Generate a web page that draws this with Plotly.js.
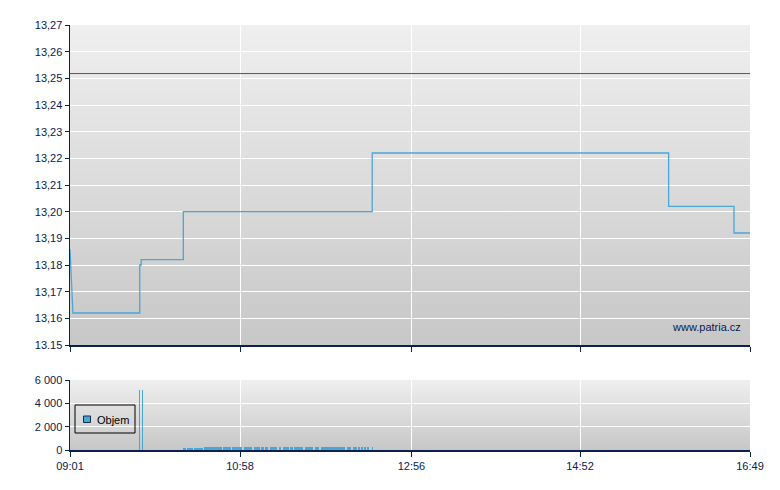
<!DOCTYPE html>
<html>
<head>
<meta charset="utf-8">
<script src="https://cdn.plot.ly/plotly-3.0.1.min.js"></script>
<style>html,body{margin:0;padding:0;background:#fff;}#chart{width:780px;height:490px;}</style>
</head>
<body>
<div id="chart"></div>
<script>
// ---- data ----
var day = "2024-01-01 ";
var priceTimes = ["09:01","09:03","09:49","09:49","09:50","09:50","10:19","10:19","12:29","12:29","15:53","15:53","16:38","16:38","16:49"];
var priceValues = [13.186,13.162,13.162,13.180,13.180,13.182,13.182,13.200,13.200,13.222,13.222,13.202,13.202,13.192,13.192];
var prevClose = 13.2518;
var prevCloseTimes = ["09:01","16:49"];

var spikeTimes = ["09:49","09:51"];
var spikeVolumes = [5150,5150];
var volStart = "10:19";
var volumes = [
 170,160,0,170,180,170,160,0,170,180,
 170,160,180,170,0,260,280,270,260,280,
 270,280,260,270,280,260,270,0,280,260,
 270,280,260,0,270,280,260,270,260,280,
 270,0,280,260,270,280,260,270,0,280,
 260,270,280,0,270,260,0,280,270,0,
 280,260,270,280,260,0,270,280,0,270,
 260,280,270,0,260,270,0,280,260,270,
 280,260,270,0,280,260,270,280,260,270,
 0,270,280,260,0,270,280,270,260,280,
 270,260,280,270,260,280,270,260,280,270,
 260,280,0,270,280,260,0,270,280,260,
 0,270,0,260,0,280,0,270,0,0,
 260
];
var volumeName = "Objem";

var xTickTimes = ["09:01","10:58","12:56","14:52","16:49"];
var yTickValues = [13.15,13.16,13.17,13.18,13.19,13.20,13.21,13.22,13.23,13.24,13.25,13.26,13.27];
var yTickLabels = ["13.15","13,16","13,17","13,18","13,19","13,20","13,21","13,22","13,23","13,24","13,25","13,26","13,27"];
var volTickValues = [0,2000,4000,6000];
var volTickLabels = ["0","2 000","4 000","6 000"];

// ---- build ----
function t(s){ return day + s; }
function addMin(s, m){
  var p = s.split(":"); var tot = (+p[0])*60 + (+p[1]) + m;
  var h = Math.floor(tot/60), mm = tot%60;
  return (h<10?"0":"")+h+":"+(mm<10?"0":"")+mm;
}
var volX = [], volY = [], volW = [];
spikeTimes.forEach(function(s,i){ volX.push(t(s)); volY.push(spikeVolumes[i]); volW.push(42000); });
volumes.forEach(function(v,i){ if(v>0){ volX.push(t(addMin(volStart,i))); volY.push(v); volW.push(60000); } });

var navy = "#0a2050";
var lineBlue = "#4aa6d6";
var barBlue = "#45a8d8";

var grad = "<svg xmlns='http://www.w3.org/2000/svg' width='10' height='100' viewBox='0 0 10 100' preserveAspectRatio='none'><defs><linearGradient id='g' x1='0' y1='0' x2='0' y2='1'><stop offset='0' stop-color='#efefef'/><stop offset='1' stop-color='#c7c7c7'/></linearGradient></defs><rect width='10' height='100' fill='url(#g)'/></svg>";
var gradURI = "data:image/svg+xml;charset=utf-8," + encodeURIComponent(grad);

var traces = [
  {x: prevCloseTimes.map(t), y: [prevClose, prevClose], type:"scatter", mode:"lines",
   line:{color:"#b83030", width:1}, showlegend:false, hoverinfo:"skip", xaxis:"x", yaxis:"y"},
  {x: priceTimes.map(t), y: priceValues, type:"scatter", mode:"lines",
   line:{color:lineBlue, width:1.3}, showlegend:false, xaxis:"x", yaxis:"y"},
  {x: volX, y: volY, type:"bar", name:volumeName, width: volW,
   marker:{color:barBlue, line:{width:0}}, xaxis:"x2", yaxis:"y2", showlegend:false}
];

var xRange = [t("09:01"), t("16:49")];
var tickFont = {family:"Liberation Sans, Arial, sans-serif", size:11, color:navy};

var layout = {
  width:780, height:490,
  margin:{l:70, r:30, t:25, b:40, pad:0},
  paper_bgcolor:"#ffffff",
  plot_bgcolor:"rgba(0,0,0,0)",
  font:{family:"Liberation Sans, Arial, sans-serif", size:11, color:navy},
  showlegend:false,
  bargap:0,
  xaxis:{type:"date", range:xRange, domain:[0,1], anchor:"y",
         tickvals:xTickTimes.map(t), ticktext:xTickTimes, showticklabels:false,
         ticks:"outside", ticklen:5, tickcolor:navy, tickwidth:1,
         showgrid:true, gridcolor:"#ffffff", gridwidth:1,
         showline:true, linecolor:navy, linewidth:1.5, zeroline:false, fixedrange:true},
  yaxis:{domain:[0.247,1], range:[13.15,13.27], anchor:"x",
         tickvals:yTickValues, ticktext:yTickLabels, tickfont:tickFont,
         ticks:"outside", ticklen:4, tickcolor:navy,
         showgrid:true, gridcolor:"#ffffff", gridwidth:1,
         showline:true, linecolor:navy, linewidth:1.5, zeroline:false},
  xaxis2:{type:"date", range:xRange, domain:[0,1], anchor:"y2",
          tickvals:xTickTimes.map(t), ticktext:xTickTimes, tickfont:tickFont,
          ticks:"outside", ticklen:5, tickcolor:navy,
          showgrid:true, gridcolor:"#ffffff", gridwidth:1,
          showline:true, linecolor:navy, linewidth:1.5, zeroline:false},
  yaxis2:{domain:[0,0.1647], range:[0,6000], anchor:"x2",
          tickvals:volTickValues, ticktext:volTickLabels, tickfont:tickFont,
          ticks:"outside", ticklen:4, tickcolor:navy,
          showgrid:true, gridcolor:"#ffffff", gridwidth:1,
          showline:true, linecolor:navy, linewidth:1.5, zeroline:false},
  images:[
    {source:gradURI, xref:"x domain", yref:"y domain", x:0, y:1, sizex:1, sizey:1,
     xanchor:"left", yanchor:"top", sizing:"stretch", layer:"below"},
    {source:gradURI, xref:"x2 domain", yref:"y2 domain", x:0, y:1, sizex:1, sizey:1,
     xanchor:"left", yanchor:"top", sizing:"stretch", layer:"below"}
  ],
  shapes:[
    // legend box
    {type:"rect", xref:"x2 domain", yref:"y2 domain", x0:5/680, x1:65/680, y0:17/70, y1:45/70,
     line:{color:"#000000", width:1}, fillcolor:"rgba(0,0,0,0)", layer:"above"},
    // legend swatch
    {type:"rect", xref:"x2 domain", yref:"y2 domain", x0:13.5/680, x1:20.5/680, y0:27.5/70, y1:34/70,
     line:{color:"#1a2a40", width:1}, fillcolor:barBlue, layer:"above"}
  ],
  annotations:[
    {text:"www.patria.cz", xref:"x domain", yref:"y domain", x:0.99, y:0.055,
     xanchor:"right", yanchor:"middle", showarrow:false,
     font:{family:"Liberation Sans, Arial, sans-serif", size:11, color:navy}},
    {text:volumeName, xref:"x2 domain", yref:"y2 domain", x:24.5/680, y:30.5/70,
     xanchor:"left", yanchor:"middle", showarrow:false,
     font:{family:"Liberation Sans, Arial, sans-serif", size:11, color:"#000000"}}
  ]
};

Plotly.newPlot("chart", traces, layout, {displayModeBar:false, staticPlot:true});
</script>
</body>
</html>
